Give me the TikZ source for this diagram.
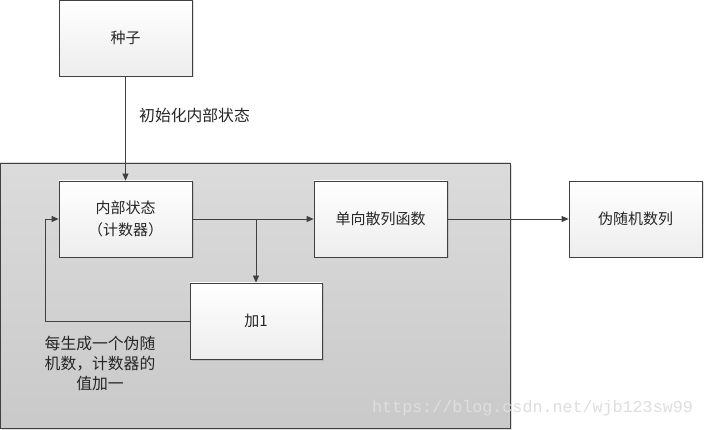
\documentclass[tikz,border=0pt]{standalone}
\usepackage{fontspec}
\setmainfont{Noto Sans CJK SC}
\newfontfamily\wmfont{Liberation Mono}
\usetikzlibrary{shadows,arrows.meta}
\definecolor{linec}{HTML}{404040}
\tikzset{
  procbox/.style={draw=linec, line width=0.8pt, top color=white, bottom color=black!7,
    drop shadow={shadow xshift=1.5pt, shadow yshift=-1.5pt, opacity=0.25},
    minimum width=133pt, minimum height=76pt, inner sep=0pt, align=center,
    font=\fontsize{15}{22}\selectfont, text=black!85},
  bigbox/.style={draw=linec, line width=0.8pt, top color=black!14, bottom color=black!21,
    drop shadow={shadow xshift=2pt, shadow yshift=-2pt, opacity=0.25},
    minimum width=510pt, minimum height=265pt, inner sep=0pt},
  arr/.style={draw=linec, line width=0.8pt, -{Triangle[length=7pt,width=6pt]}},
  lbl/.style={inner sep=0pt, font=\fontsize{15.8}{20}\selectfont, text=black!85, align=center}
}
\begin{document}
\begin{tikzpicture}[x=1pt,y=-1pt]
\useasboundingbox[fill=white] (0,0) rectangle (704,430);
\node[bigbox] (big) at (255,295.5) {};
\node[procbox] (seed) at (125.5,38) {种子};
\node[procbox] (state) at (125.5,219) {内部状态\\（计数器）};
\node[procbox] (hash) at (380.5,219) {单向散列函数};
\node[procbox] (prn) at (635.5,219) {伪随机数列};
\node[procbox, minimum width=132pt] (add) at (256,321) {加1};
\node[lbl, anchor=west] (initlbl) at (139,115) {初始化内部状态};
\node[lbl] (note) at (100,363) {每生成一个伪随\\机数，计数器的\\值加一};
\node[inner sep=0pt, text=black!13, font=\wmfont\fontsize{16.7}{18}\selectfont, anchor=west] (wm) at (372,408) {https://blog.csdn.net/wjb123sw99};
\coordinate (branch) at (add.north |- state.east);
\coordinate (fb) at (45,321);
\draw[arr] (seed) -- (state);
\draw[arr] (state.east) -- (hash.west);
\draw[arr] (branch) -- (add.north);
\draw[arr] (add.west) -- (fb) |- (state.west);
\draw[arr] (hash.east) -- (prn.west);
\end{tikzpicture}
\end{document}
